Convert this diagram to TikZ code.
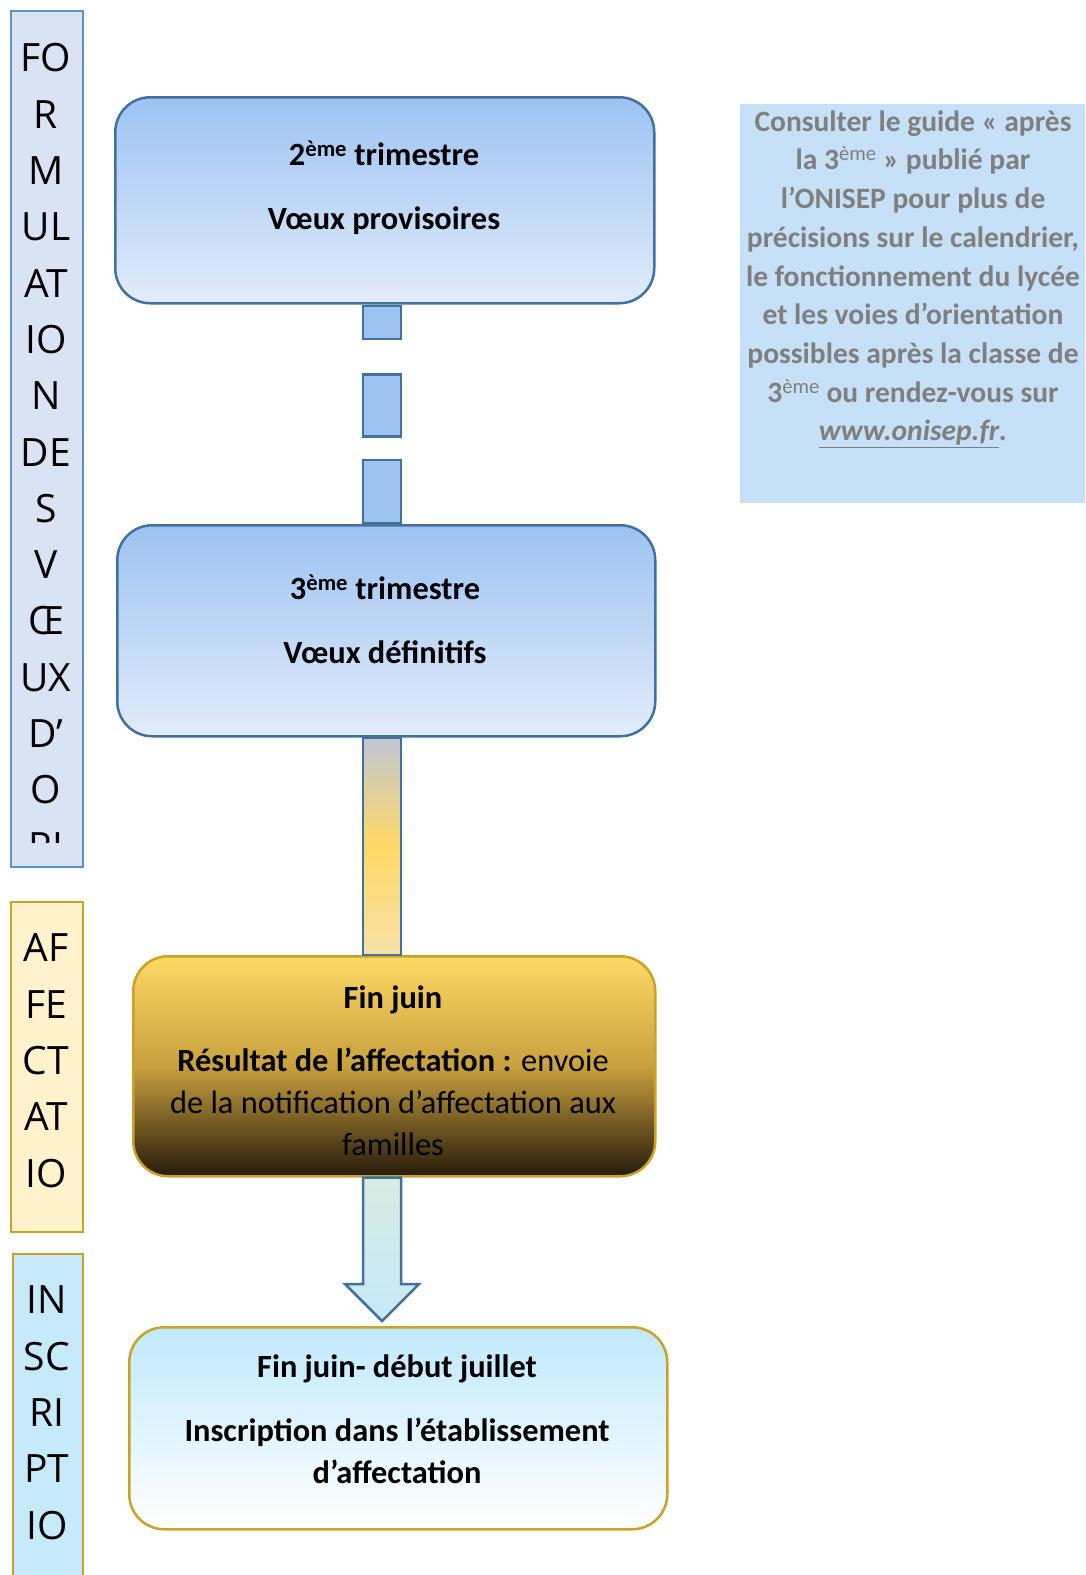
\documentclass[tikz,border=0pt]{standalone}
\usepackage{fontspec}
\setmainfont{Carlito}
\newfontfamily\sidefont{Open Sans}
\usetikzlibrary{
  calc,
  positioning
}

\definecolor{lineblue}{RGB}{65,113,156}
\definecolor{sideblue}{RGB}{91,146,204}
\definecolor{linegold}{RGB}{201,162,39}
\definecolor{boxtop}{RGB}{157,195,242}
\definecolor{boxbottom}{RGB}{226,236,250}
\definecolor{segfill}{RGB}{157,195,240}
\definecolor{notefill}{RGB}{198,224,248}
\definecolor{notegray}{RGB}{127,127,127}

\begin{document}
\begin{tikzpicture}[
  x=1pt, y=-1pt,
  sidebar/.style={draw, line width=1.5pt, anchor=north west, minimum width=72pt, inner sep=0pt},
  sideletter/.style={font=\sidefont\fontsize{39}{47}\selectfont, inner sep=0pt},
  stepbox/.style={draw, line width=2.5pt, rounded corners=35pt, anchor=north west, inner sep=0pt},
  bluestep/.style={stepbox, draw=lineblue, top color=boxtop, bottom color=boxbottom},
  steptext/.style={align=center, font=\fontsize{32.4}{42}\selectfont},
  segbox/.style={draw=lineblue, line width=2.5pt, fill=segfill, minimum width=38pt, inner sep=0pt, anchor=north}
]
\useasboundingbox (0,0) rectangle (1085,1575);

% side bars
\node[sidebar, draw=sideblue, fill={rgb,255:red,218;green,227;blue,243}, minimum height=856pt] (formbar) at (10,10) {};
\node[sidebar, draw=linegold, fill={rgb,255:red,255;green,242;blue,204}, minimum height=330pt] (affbar) at (10,901) {};
\node[sidebar, draw=linegold, fill={rgb,255:red,199;green,234;blue,251}, minimum width=70pt, minimum height=330pt] (insbar) at (12,1253) {};

\begin{scope}
  \clip (10,10) rectangle (82,842);
  \foreach \txt [count=\i from 0] in {FO,R,M,UL,AT,IO,N,DE,S,V,Œ,UX,D’,O,RI}
    \node[sideletter] (form\i) at (46,{58+56.3*\i}) {\txt};
\end{scope}
\foreach \txt [count=\i from 0] in {AF,FE,CT,AT,IO}
  \node[sideletter] (aff\i) at (46,{948+56.3*\i}) {\txt};
\foreach \txt [count=\i from 0] in {IN,SC,RI,PT,IO}
  \node[sideletter] (ins\i) at (47,{1300+56.3*\i}) {\txt};

% steps
\node[bluestep, minimum width=539pt, minimum height=206pt] (trim2) at (114,96) {};
\node[bluestep, minimum width=538pt, minimum height=211pt] (trim3) at (116,524) {};
\node[stepbox, draw=linegold, top color={rgb,255:red,254;green,217;blue,102},
  bottom color={rgb,255:red,38;green,26;blue,10}, middle color={rgb,255:red,200;green,160;blue,62},
  minimum width=522pt, minimum height=220pt] (finjuin) at (132,955) {};
\node[stepbox, draw=linegold, top color={rgb,255:red,192;green,233;blue,252}, bottom color=white,
  minimum width=538pt, minimum height=202pt] (inscr) at (128,1326) {};

\node[steptext] (trim2txt) at (384,188) {\textbf{2\textsuperscript{ème} trimestre}\\[22pt]\textbf{Vœux provisoires}};
\node[steptext] (trim3txt) at (385,619) {\textbf{3\textsuperscript{ème} trimestre}\\[22pt]\textbf{Vœux définitifs}};
\node[steptext] (finjuintxt) at (393,1071) {\textbf{Fin juin}\\[21pt]\textbf{Résultat de l’affectation :} envoie\\de la notification d’affectation aux\\familles};
\node[steptext] (inscrtxt) at (397,1419) {\textbf{Fin juin- début juillet}\\[22pt]\textbf{Inscription dans l’établissement}\\\textbf{d’affectation}};

% connectors
\coordinate (barx) at (382,0);
\node[segbox, minimum height=33pt] (seg1) at (trim2.south -| barx) {};
\node[segbox, minimum height=62pt] (seg2) at ([yshift=-33pt]seg1.south) {};
\node[segbox, minimum height=63pt, anchor=south] (seg3) at (trim3.north -| barx) {};

\draw[draw=lineblue, line width=2.5pt, top color={rgb,255:red,192;green,198;blue,210},
  bottom color={rgb,255:red,246;green,224;blue,166}, middle color={rgb,255:red,255;green,217;blue,102}]
  ([xshift=-19pt]trim3.south -| barx) rectangle ([xshift=19pt]finjuin.north -| barx);

\coordinate (atop) at (finjuin.south -| barx);
\coordinate (atip) at ([yshift=5pt]inscr.north -| barx);
\draw[draw=lineblue, line width=2.5pt, line join=miter, top color={rgb,255:red,218;green,236;blue,228},
  bottom color={rgb,255:red,197;green,233;blue,248}]
  ($(atop)+(-19,0)$) -- ($(atip)+(-19,-37)$) -- ($(atip)+(-37,-37)$) -- (atip)
  -- ($(atip)+(37,-37)$) -- ($(atip)+(19,-37)$) -- ($(atop)+(19,0)$) -- cycle;

% guide note
\node[anchor=north west, fill=notefill, minimum width=345pt, minimum height=399pt, inner sep=0pt] (guide) at (740,104) {};
\node[align=center, text=notegray, font=\bfseries\fontsize{29.5}{38.7}\selectfont] (guidetxt) at (913,279)
  {Consulter le guide « après\\la 3\textsuperscript{\mdseries ème} » publié par\\l’ONISEP pour plus de\\précisions sur le calendrier,\\le fonctionnement du lycée\\et les voies d’orientation\\possibles après la classe de\\3\textsuperscript{\mdseries ème} ou rendez-vous sur\\\textit{\underline{www.onisep.fr}.}};
\end{tikzpicture}
\end{document}
